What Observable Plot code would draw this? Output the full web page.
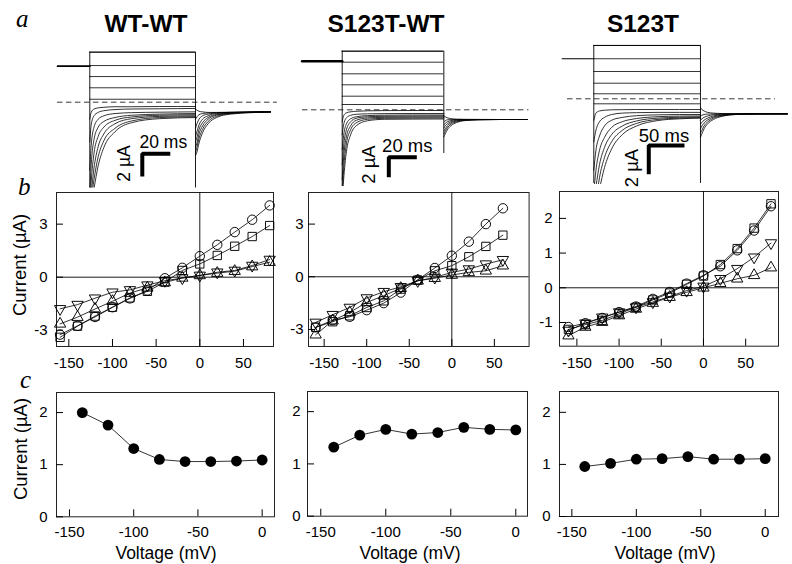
<!DOCTYPE html>
<html><head><meta charset="utf-8">
<script src="https://cdn.jsdelivr.net/npm/d3@7"></script>
<script src="https://cdn.jsdelivr.net/npm/@observablehq/plot@0.6"></script>
<style>
body{margin:0;background:#fff;}
#fig{position:relative;width:792px;height:564px;overflow:hidden;background:#fff;}
#fig > div{position:absolute;}
#fig svg{overflow:visible;max-width:none;display:block;}
</style></head><body><div id="fig"></div><script>
// ---------- Row a : current traces ----------
const titles = ["WT-WT", "S123T-WT", "S123T"];

// WT-WT
const wtHoldStart = -23, wtHoldLevel = 3.17, wtPulseEnd = 75.5, wtDash = [-23.1, 134];
const wtFlat = [4.41, 3.23, 2.26, 1.27, 0.26];
const wtTimes = [0, 1, 3, 6, 10, 18, 30, 50, 75.5];
const wtSweeps = [
  [-1.5, -0.9, -0.6, -0.5, -0.45, -0.4, -0.4, -0.38, -0.38],
  [-3.5, -2.0, -1.2, -0.9, -0.75, -0.65, -0.6, -0.58, -0.55],
  [-6, -3.8, -2.2, -1.5, -1.2, -1.0, -0.92, -0.88, -0.85],
  [-8, -5.5, -3.3, -2.2, -1.7, -1.35, -1.15, -1.05, -1.0],
  [-9, -7, -4.5, -3.0, -2.2, -1.6, -1.3, -1.15, -1.1],
  [-9, -8, -5.8, -3.9, -2.8, -1.9, -1.45, -1.25, -1.2],
  [-9, -8.5, -6.8, -4.8, -3.4, -2.3, -1.65, -1.35, -1.28],
  [-9, -9, -7.6, -5.6, -4.0, -2.6, -1.8, -1.45, -1.35]
];
const wtTailTimes = [0, 1, 2.5, 5, 9, 15, 25, 40, 53.5];
const wtTails = [
  [-0.6, -0.7, -0.8, -0.85, -0.9, -0.9, -0.88, -0.86, -0.85],
  [-1.5, -1.3, -1.1, -1.0, -0.95, -0.92, -0.9, -0.87, -0.85],
  [-2.3, -1.9, -1.5, -1.2, -1.05, -0.95, -0.9, -0.87, -0.85],
  [-3, -2.6, -2.0, -1.5, -1.2, -1.0, -0.92, -0.88, -0.85],
  [-3.5, -3.1, -2.4, -1.8, -1.35, -1.08, -0.95, -0.88, -0.85],
  [-4, -3.6, -2.8, -2.1, -1.5, -1.15, -0.97, -0.89, -0.85],
  [-4.4, -4.0, -3.2, -2.4, -1.7, -1.25, -1.0, -0.9, -0.85],
  [-4.7, -4.4, -3.6, -2.7, -1.9, -1.35, -1.05, -0.92, -0.86]
];
const wtSpikes = [-9, -9];

// S123T-WT
const mwHoldStart = -28.6, mwHoldLevel = 4.86, mwPulseEnd = 72.6, mwDash = [-28.4, 133.4];
const mwFlat = [5.86, 4.76, 3.6, 2.5, 1.36, 0.53];
const mwTimes = [0, 1, 3, 6, 10, 18, 30, 50, 72.6];
const mwSweeps = [
  [-1.2, -0.6, -0.3, -0.2, -0.15, -0.1, -0.08, -0.07, -0.07],
  [-2.5, -1.5, -0.8, -0.55, -0.45, -0.4, -0.38, -0.37, -0.37],
  [-4, -2.6, -1.4, -0.9, -0.7, -0.58, -0.54, -0.52, -0.52],
  [-5.5, -3.7, -2.0, -1.2, -0.85, -0.7, -0.65, -0.63, -0.62],
  [-7, -4.8, -2.7, -1.6, -1.05, -0.82, -0.75, -0.73, -0.72],
  [-8.5, -6, -3.4, -2.0, -1.3, -0.95, -0.85, -0.83, -0.82],
  [-9, -7, -4.2, -2.5, -1.6, -1.1, -0.95, -0.93, -0.92]
];
const mwTailTimes = [0, 1, 2.5, 5, 9, 15, 25, 40, 59.5];
const mwTails = [
  [-0.6, -0.7, -0.8, -0.88, -0.93, -0.95, -0.96, -0.97, -0.97],
  [-1.2, -1.1, -1.0, -0.98, -0.97, -0.97, -0.97, -0.97, -0.97],
  [-1.5, -1.35, -1.2, -1.08, -1.0, -0.98, -0.97, -0.97, -0.97],
  [-1.8, -1.6, -1.4, -1.2, -1.06, -1.0, -0.98, -0.97, -0.97],
  [-2.1, -1.9, -1.6, -1.32, -1.12, -1.02, -0.98, -0.97, -0.97],
  [-2.4, -2.15, -1.8, -1.45, -1.2, -1.05, -0.99, -0.97, -0.97],
  [-2.7, -2.4, -2.0, -1.6, -1.28, -1.08, -1.0, -0.97, -0.97]
];
const mwSpikes = [-9, -4.37];

// S123T
const mmHoldStart = -44.3, mmHoldLevel = 2.8, mmPulseEnd = 149.4, mmDash = [-36.8, 254.3];
const mmFlat = [3.73, 2.8, 1.91, 1.09, 0.35, -0.35];
const mmTimes = [0, 3, 8, 15, 25, 40, 60, 90, 120, 149.4];
const mmSweeps = [
  [-1.5, -1.0, -0.85, -0.8, -0.77, -0.76, -0.75, -0.75, -0.75, -0.75],
  [-3, -2.2, -1.6, -1.3, -1.1, -1.0, -0.97, -0.95, -0.95, -0.95],
  [-5, -3.6, -2.6, -1.9, -1.5, -1.3, -1.18, -1.12, -1.1, -1.1],
  [-6.5, -5, -3.6, -2.7, -2.0, -1.6, -1.38, -1.25, -1.21, -1.2],
  [-7.5, -6.2, -4.6, -3.4, -2.5, -1.9, -1.55, -1.35, -1.29, -1.27],
  [-8, -7.2, -5.5, -4.1, -3.0, -2.2, -1.72, -1.44, -1.35, -1.32],
  [-8, -7.5, -6.3, -4.8, -3.5, -2.5, -1.9, -1.52, -1.4, -1.35]
];
const mmTailTimes = [0, 2, 5, 10, 18, 30, 50, 80, 121.5];
const mmTails = [
  [-0.6, -0.75, -0.85, -0.95, -1.0, -1.03, -1.05, -1.05, -1.05],
  [-1.2, -1.15, -1.1, -1.07, -1.06, -1.05, -1.05, -1.05, -1.05],
  [-1.5, -1.4, -1.3, -1.2, -1.12, -1.08, -1.06, -1.05, -1.05],
  [-1.8, -1.65, -1.5, -1.35, -1.2, -1.12, -1.07, -1.05, -1.05],
  [-2.1, -1.9, -1.7, -1.48, -1.28, -1.15, -1.08, -1.05, -1.05],
  [-2.4, -2.2, -1.9, -1.62, -1.36, -1.19, -1.09, -1.06, -1.05],
  [-2.7, -2.45, -2.1, -1.75, -1.45, -1.23, -1.1, -1.06, -1.05]
];
const mmSpikes = [-5.92, -5.92];

const barLengthsMs = [20, 20, 50];
const barLengthUA = 2;

// ---------- Row b : I-V curves ----------
const ivVoltsA = [-160, -140, -120, -100, -80, -60, -40, -20, 0, 20, 40, 60, 80];
const ivVoltsB = [-160, -140, -120, -100, -80, -60, -40, -20, 0, 20, 40, 60];
const wtCircle = [-3.25, -2.75, -2.25, -1.7, -1.2, -0.75, -0.06, 0.53, 1.19, 1.83, 2.55, 3.25, 4.06];
const wtSquare = [-3.4, -2.77, -2.2, -1.7, -1.17, -0.8, -0.28, 0.38, 0.75, 1.23, 1.75, 2.3, 2.92];
const wtUp     = [-2.64, -2.26, -1.8, -1.36, -0.9, -0.6, -0.3, -0.04, 0.1, 0.23, 0.34, 0.6, 0.85];
const wtDown   = [-1.79, -1.55, -1.19, -0.85, -0.72, -0.45, -0.2, -0.05, 0.1, 0.28, 0.38, 0.66, 1.0];
const mwCircle = [-2.88, -2.47, -2.28, -1.9, -1.5, -0.9, -0.17, 0.5, 1.2, 2.0, 3.0, 3.9];
const mwSquare = [-2.88, -2.56, -2.22, -1.75, -1.37, -0.7, -0.19, 0.34, 0.63, 1.14, 1.73, 2.37];
const mwUp     = [-3.3, -2.5, -2.03, -1.46, -1.08, -0.65, -0.23, -0.08, 0.1, 0.25, 0.34, 0.63];
const mwDown   = [-2.6, -2.16, -1.75, -1.21, -0.85, -0.57, -0.23, -0.04, 0.25, 0.44, 0.72, 0.97];
const mmSquare = [-1.2, -1.06, -0.94, -0.75, -0.56, -0.35, -0.15, 0.1, 0.34, 0.67, 1.13, 1.72, 2.42];
const mmCircle = [-1.13, -1.02, -0.87, -0.7, -0.54, -0.32, -0.12, 0.12, 0.36, 0.62, 1.08, 1.65, 2.35];
const mmDown   = [-1.23, -1.02, -0.85, -0.7, -0.56, -0.41, -0.25, -0.08, 0.04, 0.26, 0.55, 0.88, 1.29];
const mmUp     = [-1.38, -1.13, -0.99, -0.8, -0.61, -0.44, -0.27, -0.13, 0, 0.13, 0.26, 0.36, 0.58];
const ivXTicks = [-150, -100, -50, 0, 50];
const ivYTicksAB = [-3, 0, 3];
const ivYTicksC = [-1, 0, 1, 2];

// ---------- Row c ----------
const cVolts = [-140, -120, -100, -80, -60, -40, -20, 0];
const cWT = [2.0, 1.76, 1.31, 1.1, 1.06, 1.06, 1.07, 1.09];
const cMW = [1.32, 1.55, 1.66, 1.57, 1.6, 1.7, 1.66, 1.65];
const cMM = [0.96, 1.02, 1.1, 1.11, 1.15, 1.1, 1.1, 1.11];
const cXTicks = [-150, -100, -50, 0];
const cYTicks = [0, 1, 2];

const panelLetters = ["a", "b", "c"];
const yLabel = "Current (µA)";
const xLabel = "Voltage (mV)";

// ---------- layout ----------
const fig = document.getElementById("fig");
const SANS = "'Liberation Sans', Arial, Helvetica, sans-serif";
function place(svg, left, top) {
  const d = document.createElement("div");
  d.style.left = left + "px"; d.style.top = top + "px";
  d.appendChild(svg); fig.appendChild(d);
}

const triDown = {
  draw(ctx, size) {
    const y = -Math.sqrt(size / (3 * Math.sqrt(3)));
    ctx.moveTo(0, -y * 2);
    ctx.lineTo(-Math.sqrt(3) * y, y);
    ctx.lineTo(Math.sqrt(3) * y, y);
    ctx.closePath();
  }
};

function tracePanel(L, D) {
  const xDom = [-L.x0 / L.pxMs, (L.width - L.x0) / L.pxMs];
  const yDom = [-(L.height - L.y0) / L.pxUA, L.y0 / L.pxUA];
  const sweeps = D.sweeps.flatMap((s, k) => s.map((v, j) => ({t: D.times[j], i: v, k})));
  const tails = D.tails.flatMap((s, k) => s.map((v, j) => ({t: D.T + D.tailTimes[j], i: v, k})));
  const top = d3.max(D.flat);
  const bar = [
    {t: L.barT, i: L.barI - barLengthUA},
    {t: L.barT, i: L.barI},
    {t: L.barT + D.barMs, i: L.barI}
  ];
  const svg = Plot.plot({
    width: L.width, height: L.height, margin: 0,
    x: {domain: xDom, axis: null}, y: {domain: yDom, axis: null},
    style: {background: "transparent", fontFamily: SANS, overflow: "visible"},
    marks: [
      Plot.ruleY([0], {x1: D.dash[0], x2: D.dash[1], stroke: "#222", strokeWidth: 0.9, strokeDasharray: "5.5,3.5"}),
      Plot.line([{t: D.holdStart, i: D.hold}, {t: 0, i: D.hold}], {x: "t", y: "i", strokeWidth: L.holdW}),
      Plot.ruleY(D.flat, {x1: 0, x2: D.T, strokeWidth: 0.8}),
      Plot.line(sweeps, {x: "t", y: "i", z: "k", curve: "monotone-x", strokeWidth: 0.8, clip: true}),
      Plot.line(tails, {x: "t", y: "i", z: "k", curve: "monotone-x", strokeWidth: 0.8, clip: true}),
      Plot.ruleX([0], {y1: top, y2: D.spikes[0], strokeWidth: 0.9, clip: true}),
      Plot.ruleX([D.T], {y1: top, y2: D.spikes[1], strokeWidth: 0.9, clip: true}),
      Plot.ruleY([top], {x1: 0, x2: D.T, strokeWidth: 0.9}),
      Plot.line(bar, {x: "t", y: "i", strokeWidth: 4, strokeLinejoin: "miter", strokeLinecap: "butt"}),
      Plot.text([D.barMs + " ms"], {x: L.msT, y: L.msI, textAnchor: "start", lineAnchor: "bottom", fontSize: L.fs, fill: "black"}),
      Plot.text([barLengthUA + " µA"], {x: L.uaT, y: L.uaI, rotate: -90, textAnchor: "middle", lineAnchor: "middle", fontSize: L.fs, fill: "black"})
    ]
  });
  place(svg, L.left, L.top);
}

tracePanel(
  {left: 50, top: 38, width: 232, height: 149.5, x0: 39.3, y0: 63.7, pxMs: 1.4, pxUA: 11.35, holdW: 1.8,
   barT: 37.5, barI: -4.55, msT: 35.5, msI: -4.05, uaT: 24.5, uaI: -5.4, fs: 17.5},
  {hold: wtHoldLevel, holdStart: wtHoldStart, T: wtPulseEnd, dash: wtDash, flat: wtFlat, times: wtTimes,
   sweeps: wtSweeps, tailTimes: wtTailTimes, tails: wtTails, spikes: wtSpikes, barMs: barLengthsMs[0]});
tracePanel(
  {left: 298, top: 38, width: 236, height: 148, x0: 43.7, y0: 71.3, pxMs: 1.4, pxUA: 10, holdW: 2.6,
   barT: 33.3, barI: -4.74, msT: 28.5, msI: -4.2, uaT: 19, uaI: -5.47, fs: 18.5},
  {hold: mwHoldLevel, holdStart: mwHoldStart, T: mwPulseEnd, dash: mwDash, flat: mwFlat, times: mwTimes,
   sweeps: mwSweeps, tailTimes: mwTailTimes, tails: mwTails, spikes: mwSpikes, barMs: barLengthsMs[1]});
tracePanel(
  {left: 555, top: 38, width: 236, height: 146, x0: 38.3, y0: 60.3, pxMs: 0.714, pxUA: 14.3, holdW: 1,
   barT: 77, barI: -3.27, msT: 63, msI: -3.05, uaT: 53.8, uaI: -4.84, fs: 18.5},
  {hold: mmHoldLevel, holdStart: mmHoldStart, T: mmPulseEnd, dash: mmDash, flat: mmFlat, times: mmTimes,
   sweeps: mmSweeps, tailTimes: mmTailTimes, tails: mmTails, spikes: mmSpikes, barMs: barLengthsMs[2]});

// ---------- framed plots (rows b, c) ----------
const mL = 40, mT = 2, mR = 2, mB = 30;
function framedPanel(L, xTicks, yTicks, marks) {
  const sx = (L.xDom[1] - L.xDom[0]) / L.w, sy = (L.yDom[1] - L.yDom[0]) / L.h;
  const svg = Plot.plot({
    width: L.w + mL + mR, height: L.h + mT + mB,
    marginLeft: mL, marginTop: mT, marginRight: mR, marginBottom: mB,
    x: {domain: L.xDom, ticks: xTicks, tickSize: 0, tickPadding: L.xPad, tickFormat: d => String(d), label: null},
    y: {domain: L.yDom, ticks: yTicks, tickSize: 0, tickPadding: L.yPad, tickFormat: d => String(d), label: null},
    style: {background: "transparent", fontFamily: SANS, fontSize: "15px", color: "black", overflow: "visible"},
    marks: [
      Plot.frame({stroke: "#222", strokeWidth: 1}),
      Plot.ruleX(xTicks, {y1: L.yDom[0], y2: L.yDom[0] + 7 * sy, strokeWidth: 1}),
      Plot.ruleY(yTicks, {x1: L.xDom[0], x2: L.xDom[0] + 7 * sx, strokeWidth: 1}),
      ...marks
    ]
  });
  place(svg, L.left - mL, L.top - mT);
}

function ivMarks(volts, series) {
  const out = [Plot.ruleX([0], {strokeWidth: 0.9}), Plot.ruleY([0], {strokeWidth: 0.9})];
  for (const s of series) {
    const data = volts.map((v, j) => ({v, i: s.values[j]}));
    out.push(Plot.line(data, {x: "v", y: "i", strokeWidth: 0.8}));
    out.push(Plot.dot(data, {x: "v", y: "i", symbol: s.symbol, r: s.r, stroke: "black", fill: "none", strokeWidth: 0.95}));
  }
  return out;
}
const sym = (values, symbol, r) => ({values, symbol, r});

framedPanel({left: 56, top: 192, w: 217, h: 154, xDom: [-164.1, 84.4], yDom: [-3.92, 4.79], xPad: 11, yPad: 9},
  ivXTicks, ivYTicksAB,
  ivMarks(ivVoltsA, [sym(wtCircle, "circle", 4.7), sym(wtSquare, "square", 4.7), sym(wtUp, "triangle", 4.2), sym(wtDown, triDown, 4.2)]));
framedPanel({left: 307.7, top: 191.7, w: 220.6, h: 154, xDom: [-168.4, 90.8], yDom: [-3.97, 4.8], xPad: 11, yPad: 5},
  ivXTicks, ivYTicksAB,
  ivMarks(ivVoltsB, [sym(mwCircle, "circle", 4.7), sym(mwSquare, "square", 4.7), sym(mwUp, "triangle", 4.2), sym(mwDown, triDown, 4.2)]));
framedPanel({left: 559.3, top: 191, w: 219, h: 154.7, xDom: [-170.6, 88.9], yDom: [-1.683, 2.775], xPad: 11, yPad: 7},
  ivXTicks, ivYTicksC,
  ivMarks(ivVoltsA, [sym(mmCircle, "circle", 4.7), sym(mmSquare, "square", 4.7), sym(mmDown, triDown, 4.2), sym(mmUp, "triangle", 4.2)]));

function cMarks(values) {
  const data = cVolts.map((v, j) => ({v, i: values[j]}));
  return [Plot.line(data, {x: "v", y: "i", strokeWidth: 0.8}),
          Plot.dot(data, {x: "v", y: "i", r: 5.4, fill: "black", stroke: "none"})];
}
framedPanel({left: 56, top: 391.7, w: 218, h: 124.3, xDom: [-160.1, 9.6], yDom: [0, 2.385], xPad: 10, yPad: 9}, cXTicks, cYTicks, cMarks(cWT));
framedPanel({left: 306.7, top: 391, w: 220, h: 124.7, xDom: [-160.2, 9.0], yDom: [0, 2.385], xPad: 10, yPad: 7}, cXTicks, cYTicks, cMarks(cMW));
framedPanel({left: 559.3, top: 390.7, w: 219, h: 125, xDom: [-159.6, 10.3], yDom: [0, 2.4], xPad: 10, yPad: 9}, cXTicks, cYTicks, cMarks(cMM));

// ---------- text overlay ----------
const ov = d3.create("svg").attr("width", 792).attr("height", 564)
  .style("position", "absolute").style("left", 0).style("top", 0).style("pointer-events", "none");
const letterPos = [[16, 27], [18, 195], [20, 388]];
panelLetters.forEach((t, k) => ov.append("text").attr("x", letterPos[k][0]).attr("y", letterPos[k][1])
  .attr("font-family", "'Liberation Serif', 'Times New Roman', serif").attr("font-style", "italic")
  .attr("font-size", 25).text(t));
const titleX = [146, 386, 643];
titles.forEach((t, k) => ov.append("text").attr("x", titleX[k]).attr("y", 31.5).attr("text-anchor", "middle")
  .attr("font-family", SANS).attr("font-weight", "bold").attr("font-size", 24.5).text(t));
[[20, 265], [21, 449]].forEach(([x, y]) => ov.append("text")
  .attr("transform", `translate(${x},${y}) rotate(-90)`).attr("text-anchor", "middle").attr("dy", "0.35em")
  .attr("font-family", SANS).attr("font-size", 18.5).text(yLabel));
[166, 410, 665].forEach(x => ov.append("text").attr("x", x).attr("y", 558.5).attr("text-anchor", "middle")
  .attr("font-family", SANS).attr("font-size", 17.5).text(xLabel));
fig.appendChild(ov.node());
</script></body></html>
